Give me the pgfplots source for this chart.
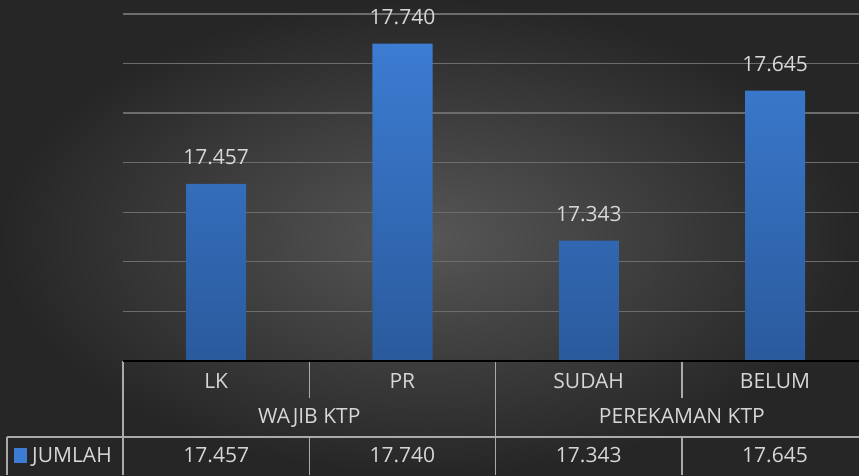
\documentclass[border=0pt]{standalone}
\usepackage{pgfplots}
\pgfplotsset{compat=1.18}
\usepackage{fontspec}
\setmainfont{Open Sans}
\definecolor{bgin}{RGB}{86,86,86}
\definecolor{bgout}{RGB}{38,38,38}
\definecolor{txt}{RGB}{215,215,215}
\definecolor{gridc}{RGB}{108,108,108}
\definecolor{tline}{RGB}{170,170,170}
\definecolor{baseline}{RGB}{215,215,215}
\definecolor{bartop}{RGB}{60,124,210}
\definecolor{barbot}{RGB}{42,90,156}
\newcommand{\lblfont}{\fontsize{21}{25}\selectfont}
\begin{document}
\begin{tikzpicture}
\shade[inner color=bgin, outer color=bgout] (0pt,0pt) rectangle (859pt,475pt);
\useasboundingbox (0pt,0pt) rectangle (859pt,475pt);
\begin{axis}[
  at={(123pt,114pt)}, anchor=south west,
  scale only axis, width=736pt, height=361pt,
  xmin=-0.5, xmax=3.45, ymin=17100, ymax=17828,
  axis line style={draw=none},
  xtick=\empty,
  ytick={17100,17200,...,17800}, yticklabels={},
  scaled y ticks=false,
  tick style={draw=none},
  ymajorgrids, major grid style={gridc, line width=1.3pt},
  /pgf/number format/assume math mode=true,
  /pgf/number format/1000 sep={.},
  every node near coord/.append style={font=\lblfont, text=txt, inner sep=0pt, yshift=19pt},
]
\addplot[ybar, bar width=60pt, draw=none, top color=bartop, bottom color=barbot, nodes near coords]
  coordinates {(0,17457) (1,17740) (2,17343) (3,17645)};
\end{axis}
% data table under the chart
\draw[tline, line width=1.3pt] (123pt,114pt) -- (123pt,0pt);
\draw[tline, line width=1.3pt] (309.3pt,114pt) -- (309.3pt,77pt);
\draw[tline, line width=1.3pt] (681.9pt,114pt) -- (681.9pt,77pt);
\draw[tline, line width=1.3pt] (495.6pt,114pt) -- (495.6pt,0pt);
\draw[tline, line width=1.3pt] (7pt,38pt) -- (859pt,38pt);
\draw[tline, line width=1.3pt] (7pt,38pt) -- (7pt,0pt);
\draw[tline, line width=1.3pt] (309.3pt,38pt) -- (309.3pt,0pt);
\draw[tline, line width=1.3pt] (681.9pt,38pt) -- (681.9pt,0pt);
\draw[baseline, line width=2pt] (123pt,114pt) -- (859pt,114pt);
\begin{scope}[every node/.style={font=\lblfont, text=txt, inner sep=0pt, anchor=base}]
\node at (216.2pt,87pt) {LK};
\node at (402.4pt,87pt) {PR};
\node at (588.7pt,87pt) {SUDAH};
\node at (775pt,87pt) {BELUM};
\node at (309.3pt,52pt) {WAJIB KTP};
\node at (681.9pt,52pt) {PEREKAMAN KTP};
\node at (216.2pt,13pt) {17.457};
\node at (402.4pt,13pt) {17.740};
\node at (588.7pt,13pt) {17.343};
\node at (775pt,13pt) {17.645};
\node[anchor=base west] at (32pt,13pt) {JUMLAH};
\end{scope}
\fill[bartop] (14pt,12pt) rectangle (27pt,27pt);
\end{tikzpicture}
\end{document}
